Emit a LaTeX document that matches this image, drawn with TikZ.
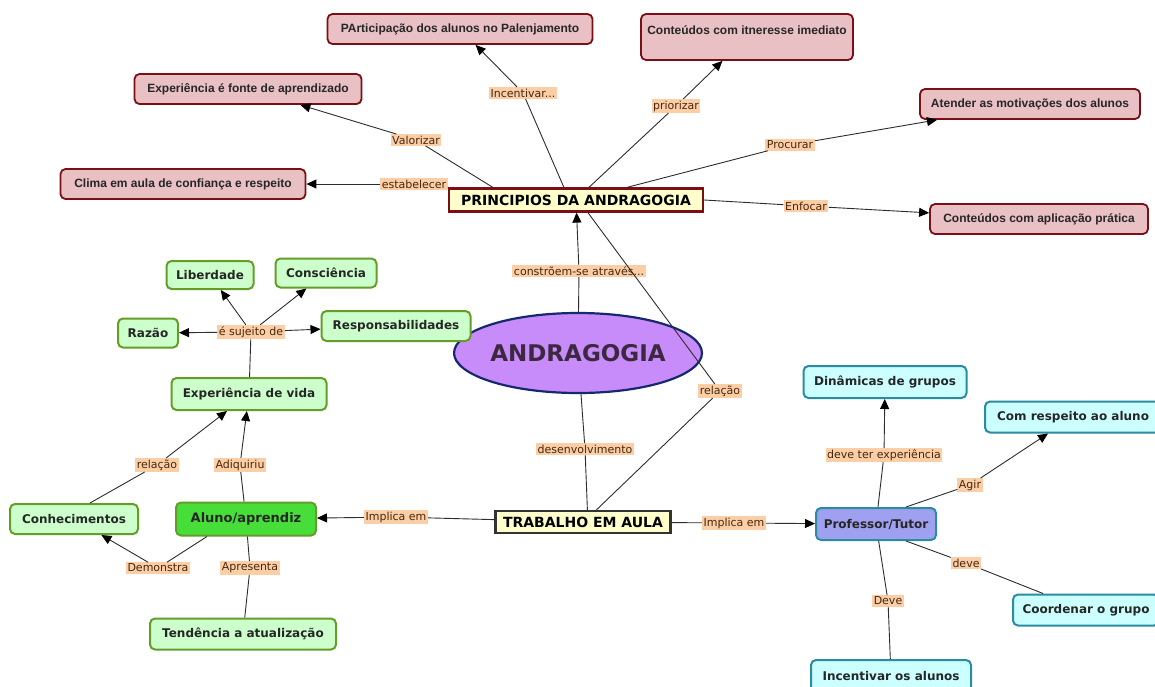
\documentclass[tikz,border=0pt]{standalone}
\usepackage{fontspec}
\setmainfont{DejaVu Sans}
\newfontfamily\libsans{Liberation Sans}
\usetikzlibrary{arrows.meta,shapes.geometric,calc}
\definecolor{rdark}{RGB}{122,16,22}
\definecolor{rfill}{RGB}{233,193,197}
\definecolor{gdark}{RGB}{100,158,40}
\definecolor{gfill}{RGB}{204,255,204}
\definecolor{alunog}{RGB}{72,222,58}
\definecolor{bdark}{RGB}{42,140,160}
\definecolor{bfill}{RGB}{204,255,255}
\definecolor{proff}{RGB}{160,160,240}
\definecolor{yfill}{RGB}{255,255,204}
\definecolor{efill}{RGB}{200,140,250}
\definecolor{edark}{RGB}{22,40,110}
\definecolor{etext}{RGB}{60,40,64}
\definecolor{peach}{RGB}{252,206,166}
\definecolor{lbrown}{RGB}{70,40,15}
\definecolor{lineg}{RGB}{45,45,45}
\tikzset{
  redn/.style={draw=rdark, fill=rfill, line width=1.8pt, rounded corners=5pt,
    font=\libsans\bfseries\fontsize{12}{14}\selectfont, text=black!85,
    minimum height=30pt, inner xsep=0pt},
  grn/.style={draw=gdark, fill=gfill, line width=2pt, rounded corners=5pt,
    font=\bfseries\fontsize{12}{14}\selectfont, text=black!85, inner xsep=0pt},
  blu/.style={draw=bdark, fill=bfill, line width=2pt, rounded corners=5pt,
    font=\bfseries\fontsize{12}{14}\selectfont, text=black!85, inner xsep=0pt},
  yel/.style={fill=yfill, line width=2.2pt, font=\bfseries\fontsize{14}{16}\selectfont,
    text=black, inner xsep=0pt},
  ell/.style={ellipse, draw=edark, fill=efill, line width=2.2pt, minimum width=208pt,
    minimum height=80pt, inner sep=0pt, font=\bfseries\fontsize{23}{26}\selectfont, text=etext},
  lbl/.style={fill=peach, inner xsep=1.5pt, inner ysep=1.5pt,
    font=\fontsize{11}{13}\selectfont, text=lbrown},
  conn/.style={draw=lineg, line width=0.9pt},
  arr/.style={conn, -{Triangle[length=10pt,width=9pt,color=black]}}
}
\begin{document}
\begin{tikzpicture}[x=1pt,y=-1pt]
\fill[white] (0,0) rectangle (1155,686);
\useasboundingbox (0,0) rectangle (1155,686);

% red nodes
\node[redn, minimum width=265pt] (part) at (460,29) {PArticipação dos alunos no Palenjamento};
\node[redn, minimum width=212pt, minimum height=46pt, align=center] (imed) at (747,37) {Conteúdos com itneresse imediato\\\mbox{}};
\node[redn, minimum width=227pt] (expf) at (248,89) {Experiência é fonte de aprendizado};
\node[redn, minimum width=245pt] (clima) at (183,184) {Clima em aula de confiança e respeito};
\node[redn, minimum width=220pt] (atend) at (1030,104) {Atender as motivações dos alunos};
\node[redn, minimum width=218pt] (aplic) at (1039,219) {Conteúdos com aplicação prática};

% central nodes
\node[yel, draw=rdark, minimum width=254pt, minimum height=23pt] (princ) at (576,200) {PRINCIPIOS DA ANDRAGOGIA};
\node[ell] (andr) at (578,353) {ANDRAGOGIA};
\node[yel, draw=black!80, minimum width=175pt, minimum height=22pt] (trab) at (583,522) {TRABALHO EM AULA};

% green nodes
\node[grn, minimum width=87pt, minimum height=28pt] (lib) at (210,275) {Liberdade};
\node[grn, minimum width=101pt, minimum height=29pt] (cons) at (326,273) {Consciência};
\node[grn, minimum width=60pt, minimum height=29pt] (razao) at (148,333) {Razão};
\node[grn, minimum width=149pt, minimum height=30pt] (resp) at (396,326) {Responsabilidades};
\node[grn, minimum width=155pt, minimum height=32pt] (expv) at (249,394) {Experiência de vida};
\node[grn, minimum width=128pt, minimum height=30pt] (conh) at (74,519) {Conhecimentos};
\node[grn, fill=alunog, minimum width=140pt, minimum height=33pt, font=\bfseries\fontsize{13}{15}\selectfont] (aluno) at (246,519) {Aluno/aprendiz};
\node[grn, minimum width=186pt, minimum height=31pt] (tend) at (243,634) {Tendência a atualização};

% blue nodes
\node[blu, minimum width=163pt, minimum height=32pt] (din) at (885,382) {Dinâmicas de grupos};
\node[blu, minimum width=176pt, minimum height=31pt] (resp2) at (1073,417) {Com respeito ao aluno};
\node[blu, minimum width=146pt, minimum height=31pt] (coord) at (1086,610) {Coordenar o grupo};
\node[blu, minimum width=160pt, minimum height=32pt] (incent) at (891,676) {Incentivar os alunos};
\node[blu, fill=proff, minimum width=120pt, minimum height=32pt] (prof) at (876,524) {Professor/Tutor};

% labels
\node[lbl] (lIncent) at (523,93) {Incentivar...};
\node[lbl] (lPrior) at (676,106) {priorizar};
\node[lbl] (lValor) at (416,140) {Valorizar};
\node[lbl] (lEstab) at (414,184) {estabelecer};
\node[lbl] (lProc) at (790,145) {Procurar};
\node[lbl] (lEnf) at (806,206) {Enfocar};
\node[lbl] (lConstr) at (579,271) {constrõem-se através...};
\node[lbl] (lRel1) at (720,391) {relação};
\node[lbl] (lDesenv) at (585,449) {desenvolvimento};
\node[lbl] (lImpL) at (396,517) {Implica em};
\node[lbl] (lImpR) at (734,523) {Implica em};
\node[lbl] (lSuj) at (251,332) {é sujeito de};
\node[lbl] (lRel2) at (157,465) {relação};
\node[lbl] (lAdiq) at (240,465) {Adiquiriu};
\node[lbl] (lDem) at (158,568) {Demonstra};
\node[lbl] (lApres) at (250,568) {Apresenta};
\node[lbl] (lDevT) at (884,455) {deve ter experiência};
\node[lbl] (lAgir) at (970,485) {Agir};
\node[lbl] (lDeve) at (966,563) {deve};
\node[lbl] (lDeve2) at (888,601) {Deve};

% connectors: principios
\draw[conn] ($(princ.north west)+(45,0)$) -- (lValor);
\draw[arr] (lValor) -- (expf);
\draw[conn] ($(princ.north west)+(116,0)$) -- (lIncent);
\draw[arr] (lIncent) -- (part);
\draw[conn] ($(princ.north west)+(141,0)$) -- (lPrior);
\draw[arr] (lPrior) -- (imed);
\draw[conn] ($(princ.north west)+(179,0)$) -- (lProc);
\draw[arr] (lProc) -- (atend);
\draw[conn] (princ) -- (lEstab);
\draw[arr] (lEstab) -- (clima);
\draw[conn] (princ.east) -- (lEnf);
\draw[arr] (lEnf) -- (aplic);

% andragogia
\draw[conn] (andr) -- (lConstr);
\draw[arr] (lConstr) -- (princ);
\draw[conn] (andr) -- (lDesenv);
\draw[conn] (lDesenv) -- ($(trab.north west)+(93,0)$);
\draw[conn] ($(princ.south west)+(140,0)$) -- (lRel1);
\draw[conn] (lRel1) -- ($(trab.north west)+(102,0)$);

% trabalho
\draw[conn] (trab) -- (lImpL);
\draw[arr] (lImpL) -- (aluno);
\draw[conn] (trab) -- (lImpR);
\draw[arr] (lImpR) -- (prof);

% aluno cluster
\draw[conn] (aluno) -- (lAdiq);
\draw[arr] (lAdiq) -- (expv);
\draw[conn] ($(conh.north)+(16,0)$) -- (lRel2);
\draw[arr] (lRel2) -- (expv);
\draw[conn] ($(aluno.south west)+(32,0)$) -- (lDem);
\draw[arr] (lDem) -- (conh);
\draw[conn] (aluno) -- (lApres);
\draw[conn] (lApres) -- (tend);
\draw[conn] (expv) -- (lSuj);
\draw[arr] (lSuj) -- (razao);
\draw[arr] (lSuj) -- (lib);
\draw[arr] (lSuj) -- (cons);
\draw[arr] (lSuj) -- (resp);

% professor cluster
\draw[conn] (prof) -- (lDevT);
\draw[arr] (lDevT) -- (din);
\draw[conn] ($(prof.north east)+(-31,0)$) -- (lAgir);
\draw[arr] (lAgir) -- (resp2);
\draw[conn] ($(prof.south east)+(-31,0)$) -- (lDeve);
\draw[conn] (lDeve) -- ($(coord.north west)+(31,0)$);
\draw[conn] (prof) -- (lDeve2);
\draw[conn] (lDeve2) -- (incent);
\end{tikzpicture}
\end{document}
